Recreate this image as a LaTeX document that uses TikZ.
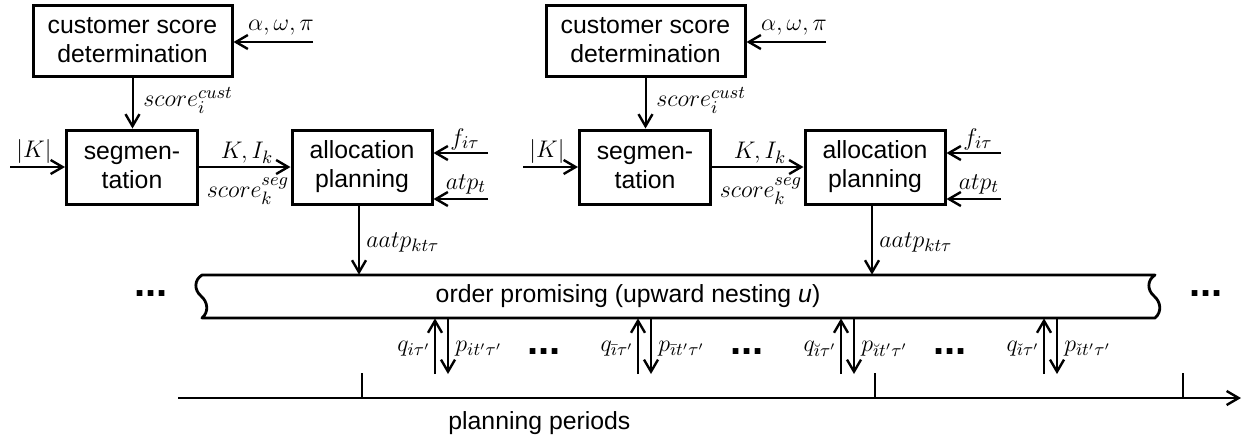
\documentclass[tikz,border=0pt]{standalone}
\usepackage{fontspec}
\setmainfont{Liberation Sans}
\usetikzlibrary{arrows.meta}
\begin{document}
\begin{tikzpicture}[x=0.5pt,y=-0.5pt,
  txt/.style={font=\fontsize{12.4}{14.5}\selectfont},
  box/.style={draw, line width=1.5pt, inner sep=0pt, align=center, txt},
  lab/.style={inner sep=0pt, txt},
  flow/.style={line width=1pt, -{Straight Barb[length=6pt,width=7pt,line width=1.2pt]}},
  band/.style={line width=1.4pt, line join=round},
  tick/.style={line width=1pt},
  dotsnode/.style={inner sep=0pt, anchor=base, font=\fontsize{20}{20}\selectfont\bfseries},
]
\useasboundingbox (0,0) rectangle (1242,441);

% order promising band (frame drawn below with torn ends)
\node[inner sep=0pt, minimum width=476.5pt, minimum height=21.5pt] (op) at (678.5,296.5) {};
\draw[band] (202,275) -- (1155,275)
  .. controls (1147,280) and (1147,290) .. (1154,296)
  .. controls (1161,302) and (1162,312) .. (1155,318)
  -- (202,318)
  .. controls (209,312) and (208,302) .. (201,296)
  .. controls (194,290) and (194,280) .. (202,275) -- cycle;
\node[lab] (optext) at (628,296) {order promising (upward nesting \textit{u})};

% two planning blocks
\foreach \o/\s in {0/A,513/B}{
  \node[box, minimum width=99.5pt, minimum height=35.5pt] (csd\s) at (132.5+\o,40.5) {customer score\\determination};
  \node[box, minimum width=65.5pt, minimum height=37pt] (seg\s) at (132+\o,167) {segmen-\\tation};
  \node[box, minimum width=70pt, minimum height=37pt] (alloc\s) at (362+\o,167) {allocation\\planning};
  \coordinate (awp\s) at (313+\o,42);
  \coordinate (kin\s) at (10+\o,167);
  \coordinate (fin\s) at (488+\o,153);
  \coordinate (atpin\s) at (488+\o,199);
  \draw[flow] (awp\s) -- (awp\s -| csd\s.east);
  \draw[flow] (csd\s.south) -- (csd\s.south |- seg\s.north);
  \draw[flow] (kin\s) -- (seg\s.west);
  \draw[flow] (seg\s.east) -- (alloc\s.west);
  \draw[flow] (fin\s) -- (fin\s -| alloc\s.east);
  \draw[flow] (atpin\s) -- (atpin\s -| alloc\s.east);
  \draw[flow] ([xshift=-1.5pt]alloc\s.south) -- ([xshift=-1.5pt]alloc\s.south |- op.north);
  \node[lab] (lawp\s) at (281+\o,28) {$\alpha,\omega,\pi$};
  \node[lab, anchor=west] (lcust\s) at (143+\o,100) {$score_i^{cust}$};
  \node[lab] (lk\s) at (34+\o,151) {$|K|$};
  \node[lab] (lki\s) at (247+\o,153) {$K, I_k$};
  \node[lab] (lseg\s) at (248+\o,191) {$score_k^{seg}$};
  \node[lab] (lf\s) at (465+\o,139) {$f_{i\tau}$};
  \node[lab] (latp\s) at (466+\o,184) {$atp_t$};
  \node[lab, anchor=west] (laatp\s) at (366+\o,242) {$aatp_{kt\tau}$};
}

% demand and price exchanges with the order promising band
\foreach \k/\sub in {0/{i},1/{\bar{\imath}},2/{\breve{\imath}},3/{\check{\imath}}}{
  \coordinate (qb\k) at (435+203*\k,374);
  \coordinate (pb\k) at (448+203*\k,374);
  \draw[flow] (qb\k) -- (qb\k |- op.south);
  \draw[flow] (pb\k |- op.south) -- (pb\k);
  \node[lab, anchor=east] (q\k) at (431+203*\k,349) {$q_{\sub\tau'}$};
  \node[lab, anchor=west] (p\k) at (455+203*\k,349) {$p_{\sub t'\tau'}$};
}
\foreach \k in {0,1,2}{
  \node[dotsnode] (dd\k) at (544+203*\k,354) {...};
}
\node[dotsnode] (dleft) at (151,296) {...};
\node[dotsnode] (dright) at (1206,296) {...};

% time axis
\coordinate (t0) at (178,398);
\coordinate (t1) at (1241,398);
\draw[flow] (t0) -- (t1);
\foreach \x [count=\n] in {362,875,1183}{
  \coordinate (tk\n) at (\x,373);
  \draw[tick] (tk\n) -- (tk\n |- t0);
}
\node[lab, anchor=base west] (pp) at (448,429) {planning periods};
\end{tikzpicture}
\end{document}
